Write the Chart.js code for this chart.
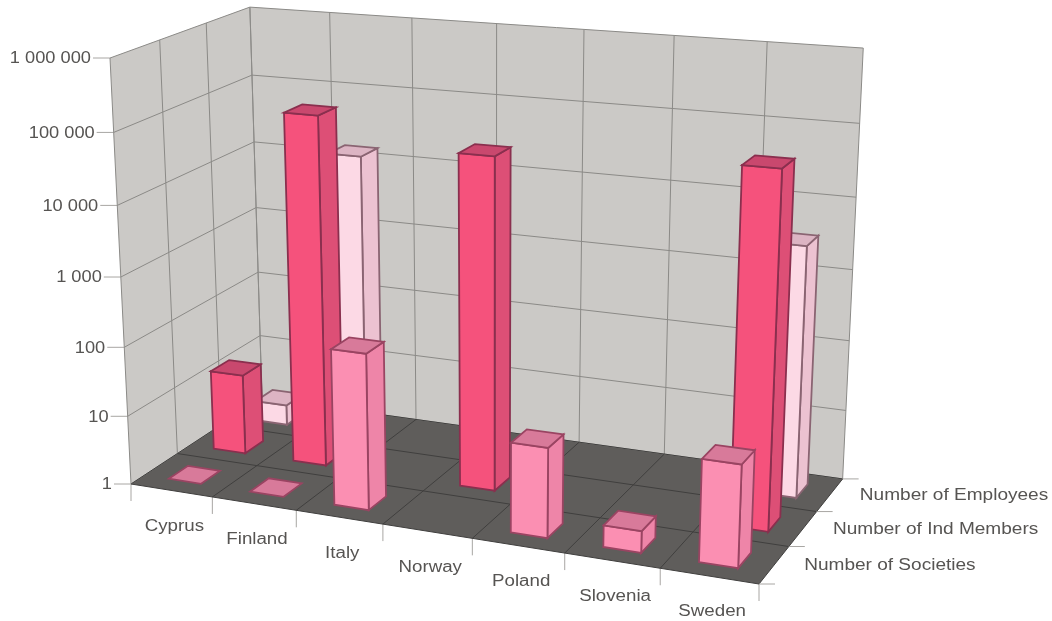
<!DOCTYPE html>
<html lang="en">
<head>
<meta charset="UTF-8">
<title>Societies, members and employees by country</title>
<script src="https://cdn.jsdelivr.net/npm/chart.js"></script>
<style>
    html, body { margin: 0; padding: 0; background: #fff; }
    canvas { display: block; }
</style>
</head>
<body>
<canvas id="chart" width="1052" height="621"></canvas>
<script>
    // data (log axis, 1 means a flat bar on the floor)
    const countries = ['Cyprus', 'Finland', 'Italy', 'Norway', 'Poland', 'Slovenia', 'Sweden'];
    const seriesNames = ['Number of Societies', 'Number of Ind Members', 'Number of Employees'];
    const societies = [1, 1, 165, null, 18, 2, 25];
    const indMembers = [15, 110000, null, 50000, null, null, 75000];
    const employees = [2, 15000, null, null, null, null, 3400];
    const yTicks = [1, 10, 100, 1000, 10000, 100000, 1000000];

    // corners of the box on screen, and perspective weights
    const O = [131, 484], PX = [759, 584], PY = [110, 58], PZ = [262, 398];
    const gx = -0.107, gy = -0.055, gz = 0.097;
    const barW = 0.4, barD = 0.42;

    const shades = [
        { front: '#fb8fb2', side: '#ee85a8', top: '#d87a9a', line: '#9a4462' },
        { front: '#f5527c', side: '#dd4f76', top: '#c9486e', line: '#8a2f4e' },
        { front: '#fcd9e5', side: '#ecc2d1', top: '#dcb4c3', line: '#8a6472' }
    ];

    function project(x, y, z) {
        const w = 1 + x * gx + y * gy + z * gz;
        const c = i => O[i] + x * (PX[i] * (1 + gx) - O[i]) + y * (PY[i] * (1 + gy) - O[i]) + z * (PZ[i] * (1 + gz) - O[i]);
        return [c(0) / w, c(1) / w];
    }

    function poly(ctx, pts, fill, stroke, lw) {
        ctx.beginPath();
        pts.forEach((p, i) => i ? ctx.lineTo(p[0], p[1]) : ctx.moveTo(p[0], p[1]));
        ctx.closePath();
        if (fill) { ctx.fillStyle = fill; ctx.fill(); }
        if (stroke) { ctx.strokeStyle = stroke; ctx.lineWidth = lw || 1; ctx.stroke(); }
    }

    function seg(ctx, a, b, color, lw) {
        ctx.beginPath();
        ctx.moveTo(a[0], a[1]);
        ctx.lineTo(b[0], b[1]);
        ctx.strokeStyle = color;
        ctx.lineWidth = lw || 1;
        ctx.stroke();
    }

    // the scans text is a bit wider than the font, so stretch it
    function label(ctx, text, x, y, align, stretch) {
        ctx.save();
        ctx.translate(x, y);
        ctx.scale(stretch, 1);
        ctx.font = '16px "Liberation Sans", Arial, sans-serif';
        ctx.fillStyle = '#565452';
        ctx.textAlign = align;
        ctx.textBaseline = 'middle';
        ctx.fillText(text, 0, 0);
        ctx.restore();
    }

    const box3d = {
        id: 'box3d',
        afterDatasetsDraw(chart) {
            const ctx = chart.ctx;
            const sx = chart.scales.x, sy = chart.scales.y, sz = chart.scales.z;
            const fx = v => (sx.getPixelForValue(v) - sx.left) / sx.width;
            const fz = v => (sz.getPixelForValue(v) - sz.left) / sz.width;
            const fy = v => (sy.bottom - sy.getPixelForValue(v)) / sy.height;
            const nx = countries.length, nz = seriesNames.length;

            // walls and floor
            poly(ctx, [project(0, 0, 0), project(0, 1, 0), project(0, 1, 1), project(0, 0, 1)], '#cbc9c6');
            poly(ctx, [project(0, 0, 1), project(0, 1, 1), project(1, 1, 1), project(1, 0, 1)], '#cbc9c6');
            poly(ctx, [project(0, 0, 0), project(1, 0, 0), project(1, 0, 1), project(0, 0, 1)], '#5f5d5b');

            const wallLine = '#8b8a87', floorLine = '#403f3e';
            yTicks.forEach(t => {
                const y = fy(t);
                seg(ctx, project(0, y, 0), project(0, y, 1), wallLine);
                seg(ctx, project(0, y, 1), project(1, y, 1), wallLine);
                const a = project(0, y, 0);
                seg(ctx, a, [a[0] - 17, a[1]], '#a8a6a3');
                label(ctx, String(t).replace(/\B(?=(\d{3})+$)/g, ' '), a[0] - 19, a[1] + 1, 'right', 1.14);
            });
            for (let i = 0; i <= nx; i++) {
                const x = fx(i - 0.5);
                seg(ctx, project(x, 0, 1), project(x, 1, 1), wallLine);
                seg(ctx, project(x, 0, 0), project(x, 0, 1), floorLine);
                const a = project(x, 0, 0);
                seg(ctx, a, [a[0], a[1] + 17], '#a8a6a3');
            }
            for (let k = 0; k <= nz; k++) {
                const z = fz(k - 0.5);
                seg(ctx, project(0, 0, z), project(0, 1, z), wallLine);
                seg(ctx, project(0, 0, z), project(1, 0, z), floorLine);
                const a = project(1, 0, z);
                seg(ctx, a, [a[0] + 16, a[1]], '#a8a6a3');
            }
            countries.forEach((c, i) => {
                const a = project(fx(i), 0, 0);
                label(ctx, c, a[0] + 3, a[1] + 36, 'center', 1.17);
            });
            seriesNames.forEach((s, k) => {
                const a = project(1, 0, fz(k));
                label(ctx, s, a[0] + 30, a[1] + 1, 'left', 1.19);
            });

            // bars, back row first and left to right inside a row
            for (let k = nz - 1; k >= 0; k--) {
                chart.data.datasets[k].data.forEach((v, i) => {
                    if (v === null) return;
                    const hw = barW / nx / 2, hd = barD / nz / 2;
                    const x0 = fx(i) - hw, x1 = fx(i) + hw, z0 = fz(k) - hd, z1 = fz(k) + hd;
                    const h = fy(v), s = shades[k];
                    if (h > 0) {
                        poly(ctx, [project(x1, 0, z0), project(x1, 0, z1), project(x1, h, z1), project(x1, h, z0)], s.side, s.line, 1.8);
                        poly(ctx, [project(x0, 0, z0), project(x1, 0, z0), project(x1, h, z0), project(x0, h, z0)], s.front, s.line, 1.8);
                    }
                    poly(ctx, [project(x0, h, z0), project(x1, h, z0), project(x1, h, z1), project(x0, h, z1)], s.top, s.line, 1.8);
                });
            }
        }
    };

    new Chart(document.getElementById('chart'), {
        type: 'bar',
        data: {
            labels: countries,
            datasets: [
                { label: seriesNames[0], data: societies, backgroundColor: 'transparent' },
                { label: seriesNames[1], data: indMembers, backgroundColor: 'transparent' },
                { label: seriesNames[2], data: employees, backgroundColor: 'transparent' }
            ]
        },
        options: {
            responsive: false,
            animation: false,
            plugins: { legend: { display: false }, tooltip: { enabled: false } },
            scales: {
                x: { type: 'category', labels: countries, offset: true, display: false },
                y: { type: 'logarithmic', min: 1, max: 1000000, display: false },
                z: { type: 'category', axis: 'x', labels: seriesNames, offset: true, display: false }
            }
        },
        plugins: [box3d]
    });
</script>
</body>
</html>
